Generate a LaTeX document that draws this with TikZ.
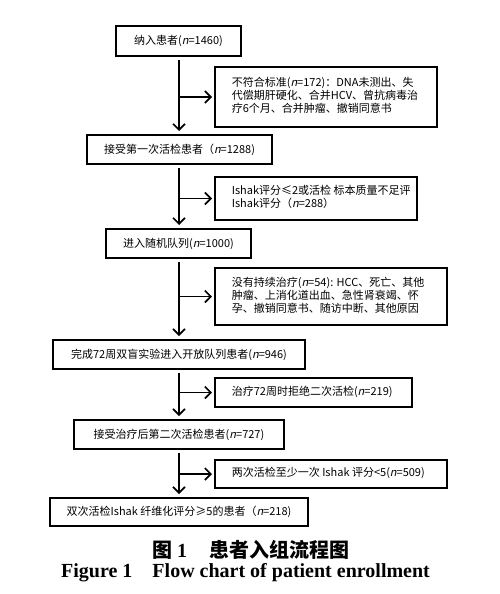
\documentclass[tikz,border=0pt]{standalone}
\usepackage{fontspec}
\setmainfont{Liberation Serif}
\newfontfamily\cjk{Noto Sans CJK SC}
\newfontfamily\cjkit[FakeSlant=0.22]{Noto Sans CJK SC}
\usetikzlibrary{arrows.meta}
\newcommand\nn{{\cjkit n}}
\newcommand\sidetext[2]{\hbox to #1{\begin{tabular}{@{}l@{}}#2\end{tabular}\hss}}
\begin{document}
\begin{tikzpicture}[x=1pt,y=-1pt,
  frame/.style={draw, line width=1.6pt, inner sep=0pt, font=\cjk\fontsize{11}{12.2}\selectfont},
  box/.style={frame, align=center},
  side/.style={frame, inner xsep=17pt},
  arr/.style={line width=1.6pt, -{Straight Barb[length=6pt,width=12pt,line width=1.6pt]}}]
\useasboundingbox (0,0) rectangle (500,594);
\coordinate (sp) at (179,0);
% main boxes
\node[box, minimum width=125.4pt, minimum height=30.4pt] (b1) at (178.5,41) {纳入患者(\nn=1460)};
\node[box, minimum width=185.4pt, minimum height=29.4pt] (b2) at (179.5,149.5) {接受第一次活检患者（\nn=1288)};
\node[box, minimum width=145.4pt, minimum height=29.4pt] (b3) at (178.5,243.5) {进入随机队列(\nn=1000)};
\node[box, minimum width=252.4pt, minimum height=29.4pt] (b4) at (179,354.5) {完成72周双盲实验进入开放队列患者(\nn=946)};
\node[box, minimum width=210.4pt, minimum height=29.4pt] (b5) at (179,434.5) {接受治疗后第二次活检患者(\nn=727)};
\node[box, minimum width=258.4pt, minimum height=28.4pt] (b6) at (179,512) {双次活检Ishak 纤维化评分≥5的患者（\nn=218)};
% side boxes
\node[side, minimum height=60.4pt] (s1) at (326,97) {\sidetext{188.4pt}{不符合标准(\nn=172)：DNA未测出、失\\代偿期肝硬化、合并HCV、曾抗病毒治\\疗6个月、合并肿瘤、撤销同意书}};
\node[side, minimum height=43.4pt] (s2) at (316,198.5) {\sidetext{168.4pt}{Ishak评分≤2或活检 标本质量不足评\\Ishak评分（\nn=288）}};
\node[side, minimum height=57.4pt] (s3) at (331,296.5) {\sidetext{198.4pt}{没有持续治疗(\nn=54): HCC、死亡、其他\\肿瘤、上消化道出血、急性肾衰竭、怀\\孕、撤销同意书、随访中断、其他原因}};
\node[side, minimum height=29.4pt] (s4) at (313.5,392.5) {\sidetext{163.4pt}{治疗72周时拒绝二次活检(\nn=219)}};
\node[side, minimum height=28.4pt] (s5) at (331,474) {\sidetext{198.4pt}{两次活检至少一次 Ishak 评分<5(\nn=509)}};
% spine arrows
\foreach \a/\b in {b1/b2,b2/b3,b3/b4,b4/b5,b5/b6}
  \draw[arr, shorten <=3pt, shorten >=3pt] (\a.south -| sp) -- (\b.north -| sp);
\foreach \s in {s1,s2,s3,s4,s5}
  \draw[arr, shorten >=2pt] (sp |- \s.west) -- (\s.west);
% caption
\node[font=\bfseries\fontsize{20}{22}\selectfont, inner sep=0pt, anchor=west] (cap1) at (152,550) {{\cjk 图}\hspace{5pt}1\hspace{22pt}{\cjk 患者入组流程图}};
\node[font=\bfseries\fontsize{20}{22}\selectfont, inner sep=0pt, anchor=west] (cap2) at (61,573) {Figure 1\hspace{1em}Flow chart of patient enrollment};
\end{tikzpicture}
\end{document}
